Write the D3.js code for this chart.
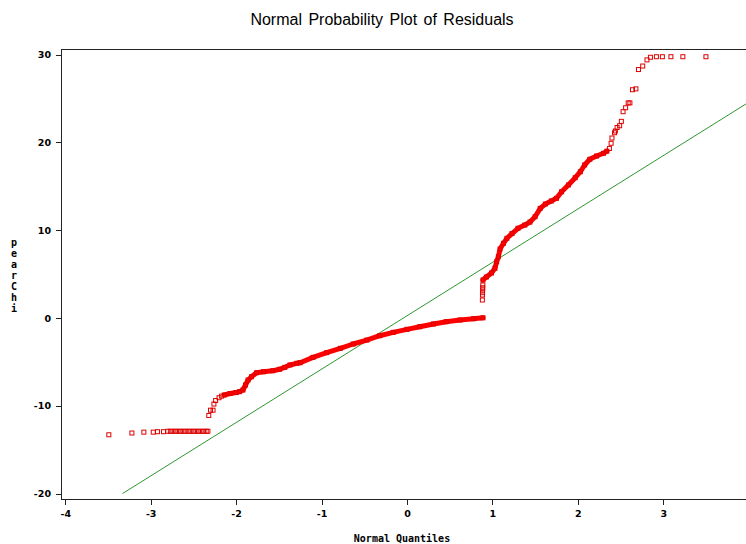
<!DOCTYPE html>
<html>
<head>
<meta charset="utf-8">
<script src="https://cdn.jsdelivr.net/npm/d3@7"></script>
<style>
  body { margin: 0; background: #fff; }
  svg { display: block; }
</style>
</head>
<body>
<script>
// Step 0: data
//= ================================
var xTicks = [-4, -3, -2, -1, 0, 1, 2, 3, 4];
// the "4" label sits past the right edge of the picture, so it stays unlabelled
var xTickLabels = ["-4", "-3", "-2", "-1", "0", "1", "2", "3", ""];
var yTicks = [-20, -10, 0, 10, 20, 30];

// lower tail, separate squares
var lowTailQ = [-3.49, -3.22, -3.08, -2.97, -2.92, -2.85, -2.80, -2.77, -2.74, -2.71, -2.68, -2.65, -2.62, -2.59,
  -2.56, -2.53, -2.50, -2.47, -2.44, -2.41, -2.38, -2.35, -2.33, -2.32, -2.30, -2.27, -2.26, -2.24, -2.20, -2.17];
var lowTailR = [-13.3, -13.1, -13.0, -13.0, -12.95, -12.95, -12.9, -12.9, -12.9, -12.9, -12.9, -12.9, -12.9, -12.9,
  -12.9, -12.9, -12.9, -12.9, -12.9, -12.9, -12.9, -12.9, -12.9, -11.1, -10.5, -10.5, -9.8, -9.4, -9.08, -8.9];

// lower dense band
var bodyLowQ = [-2.14, -2.07, -2.00, -1.96, -1.92, -1.89, -1.86, -1.82, -1.76, -1.68, -1.57, -1.49, -1.43, -1.37,
  -1.29, -1.25, -1.10, -0.94, -0.78, -0.63, -0.47, -0.32, -0.16, 0.00, 0.15, 0.31, 0.46, 0.62, 0.78, 0.89];
var bodyLowR = [-8.77, -8.6, -8.49, -8.39, -8.2, -7.63, -7.06, -6.69, -6.23, -6.12, -6.0, -5.84, -5.62, -5.35,
  -5.16, -5.09, -4.48, -3.95, -3.45, -2.96, -2.51, -2.02, -1.63, -1.29, -0.99, -0.68, -0.42, -0.23, -0.08, 0.02];

// the jump near q = 0.89
var jumpQ = [0.883, 0.884, 0.885, 0.886, 0.887, 0.888];
var jumpR = [2.05, 2.62, 2.88, 3.19, 3.45, 3.76];

// upper dense band
var bodyHighQ = [0.89, 0.93, 0.99, 1.03, 1.05, 1.07, 1.09, 1.13, 1.17, 1.23, 1.30, 1.38, 1.44, 1.50,
  1.56, 1.62, 1.69, 1.75, 1.81, 1.89, 1.97, 2.03, 2.08, 2.14, 2.22, 2.30, 2.34];
var bodyHighR = [4.33, 4.67, 5.13, 5.66, 6.41, 6.98, 7.86, 8.51, 9.08, 9.62, 10.22, 10.59, 10.93, 11.54,
  12.49, 12.98, 13.33, 13.63, 14.38, 15.15, 15.98, 16.66, 17.43, 18.08, 18.45, 18.76, 19.0];

// upper tail, separate squares
var highTailQ = [2.37, 2.39, 2.40, 2.43, 2.44, 2.46, 2.49, 2.51, 2.53, 2.56, 2.59, 2.61, 2.64, 2.68,
  2.71, 2.76, 2.81, 2.85, 2.92, 2.99, 3.09, 3.23, 3.50];
var highTailR = [19.3, 19.9, 20.5, 21.1, 21.3, 21.7, 21.9, 22.4, 23.5, 23.95, 24.5, 24.5, 26.0, 26.1,
  28.3, 28.7, 29.4, 29.7, 29.76, 29.76, 29.76, 29.76, 29.76];

// reference line: mean and std of the residuals
var refMean = 0.25;
var refStd = 6.08;
var refQ = [-3.33, 4.2];

function zip(qs, rs) { return qs.map((q, i) => ({q: q, r: rs[i]})); }

// Step 1: chart parameters
//= ================================
var svgWidth = 746;
var svgHeight = 544;
var plot = {left: 61, right: 760, top: 49, bottom: 499};

var svg = d3.select("body").append("svg")
  .attr("width", svgWidth)
  .attr("height", svgHeight);

svg.append("rect").attr("width", svgWidth).attr("height", svgHeight).attr("fill", "#fff");

var x = d3.scaleLinear().domain([-4.05, 4.133]).range([plot.left, plot.right]);
var y = d3.scaleLinear().domain([-20.615, 30.64]).range([plot.bottom, plot.top]);

svg.append("clipPath").attr("id", "clip")
  .append("rect")
  .attr("x", plot.left).attr("y", plot.top)
  .attr("width", plot.right - plot.left).attr("height", plot.bottom - plot.top);

// Step 2: frame and axes
//= ================================
svg.append("rect")
  .attr("x", plot.left).attr("y", plot.top)
  .attr("width", plot.right - plot.left).attr("height", plot.bottom - plot.top)
  .attr("fill", "none").attr("stroke", "#222").attr("stroke-width", 1)
  .attr("shape-rendering", "crispEdges");

var bottomAxis = d3.axisBottom(x).tickValues(xTicks).tickSize(6).tickPadding(5)
  .tickFormat((d, i) => xTickLabels[i]);
var leftAxis = d3.axisLeft(y).tickValues(yTicks).tickSize(5).tickPadding(5)
  .tickFormat(d => String(d));

var gx = svg.append("g")
  .attr("transform", `translate(0, ${plot.bottom})`)
  .call(bottomAxis);
var gy = svg.append("g")
  .attr("transform", `translate(${plot.left}, 0)`)
  .call(leftAxis);

[gx, gy].forEach(function(g) {
  g.select(".domain").remove();
  g.selectAll(".tick line").attr("stroke", "#222").attr("shape-rendering", "crispEdges");
  g.selectAll(".tick text")
    .attr("fill", "#000")
    .style("font-family", "'DejaVu Sans', sans-serif")
    .style("font-weight", "bold")
    .style("font-size", "9.5px");
});

// Step 3: titles
//= ================================
svg.append("text")
  .attr("x", 382).attr("y", 25)
  .attr("text-anchor", "middle")
  .style("font-family", "'Liberation Sans', Arial, sans-serif")
  .style("font-size", "16px")
  .style("word-spacing", "2px")
  .text("Normal Probability Plot of Residuals");

svg.append("text")
  .attr("x", 402).attr("y", 542)
  .attr("text-anchor", "middle")
  .style("font-family", "'DejaVu Sans Mono', monospace")
  .style("font-weight", "bold")
  .style("font-size", "10px")
  .text("Normal Quantiles");

// vertical label, one letter per line
var yLabel = "pearChi".split("");
svg.append("g").selectAll("text")
  .data(yLabel)
  .join("text")
  .attr("x", 14)
  .attr("y", (d, i) => 246 + i * 11)
  .attr("text-anchor", "middle")
  .style("font-family", "'DejaVu Sans Mono', monospace")
  .style("font-weight", "bold")
  .style("font-size", "10px")
  .text(d => d);

// Step 4: reference line and residuals
//= ================================
var chart = svg.append("g").attr("clip-path", "url(#clip)");

var refLine = d3.line()
  .x(d => x(d))
  .y(d => y(refMean + refStd * d));

chart.append("path")
  .attr("d", refLine(refQ))
  .attr("fill", "none")
  .attr("stroke", "#1a8a1a")
  .attr("stroke-width", 0.9);

var band = d3.line()
  .x(d => x(d.q))
  .y(d => y(d.r));

[zip(bodyLowQ, bodyLowR), zip(bodyHighQ, bodyHighR)].forEach(function(seg) {
  chart.append("path")
    .attr("d", band(seg))
    .attr("fill", "none")
    .attr("stroke", "#f00")
    .attr("stroke-width", 5)
    .attr("stroke-linejoin", "round")
    .attr("stroke-linecap", "round");
});

var points = [].concat(
  zip(lowTailQ, lowTailR),
  zip(bodyLowQ, bodyLowR),
  zip(jumpQ, jumpR),
  zip(bodyHighQ, bodyHighR),
  zip(highTailQ, highTailR)
);

chart.selectAll("rect.pt")
  .data(points)
  .join("rect")
  .attr("class", "pt")
  .attr("x", d => x(d.q) - 2)
  .attr("y", d => y(d.r) - 2)
  .attr("width", 4)
  .attr("height", 4)
  .attr("fill", "none")
  .attr("stroke", "#d00")
  .attr("stroke-width", 1);
</script>
</body>
</html>
